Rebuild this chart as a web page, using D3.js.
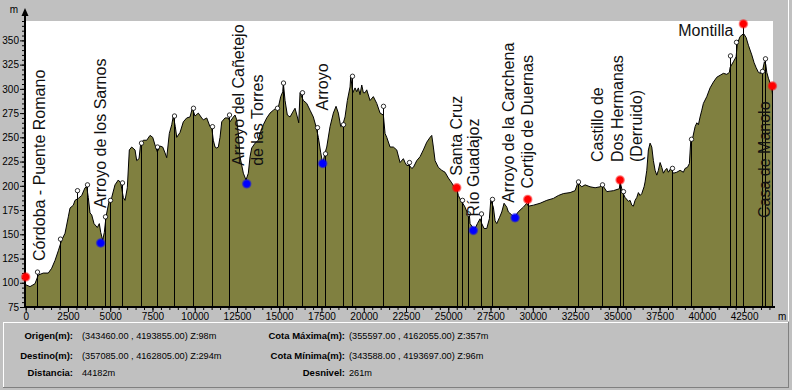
<!DOCTYPE html>
<html>
<head>
<meta charset="utf-8">
<style>
  body { margin: 0; background: #c0c0c0; }
  svg { display: block; font-family: "Liberation Sans", Arial, sans-serif; }
</style>
<script src="https://d3js.org/d3.v7.min.js"></script>
</head>
<body>
<script>
// Perfil: distancia (m) y cota (m)
var dist = [0, 254, 550, 746, 1041, 1337, 1538, 1734, 1929, 2130,
  2326, 2521, 2621, 2817, 2917, 3112, 3314, 3509, 3609, 3704,
  3805, 3905, 4041, 4237, 4355, 4438, 4556, 4651, 4751, 4828,
  4947, 5089, 5284, 5479, 5621, 5775, 5876, 6012, 6130, 6272,
  6468, 6568, 6704, 6805, 6958, 7160, 7355, 7515, 7651, 7787,
  7947, 8106, 8242, 8343, 8497, 8639, 8734, 8852, 8935, 9130,
  9325, 9526, 9722, 9858, 10017, 10213, 10414, 10509, 10710, 10905,
  11006, 11100, 11201, 11301, 11396, 11497, 11597, 11793, 11988, 12089,
  12284, 12385, 12485, 12580, 12680, 12876, 13035, 13171, 13272, 13372,
  13568, 13763, 13864, 14059, 14260, 14455, 14651, 14810, 14946, 15088,
  15207, 15242, 15343, 15479, 15639, 15798, 15934, 16071, 16153, 16230,
  16426, 16627, 16822, 17017, 17177, 17313, 17455, 17573, 17710, 17810,
  18005, 18201, 18360, 18496, 18639, 18757, 18893, 19029, 19189, 19230,
  19349, 19485, 19585, 19680, 19780, 19881, 19976, 20077, 20177, 20372,
  20568, 20769, 20965, 21160, 21260, 21361, 21556, 21751, 21952, 22147,
  22343, 22443, 22544, 22698, 22840, 22934, 23135, 23331, 23526, 23727,
  23923, 24023, 24118, 24218, 24414, 24615, 24810, 25006, 25207, 25343,
  25503, 25597, 25739, 25857, 25994, 26130, 26248, 26290, 26450, 26586,
  26722, 26881, 26982, 27118, 27278, 27432, 27514, 27668, 27769, 27869,
  28023, 28165, 28301, 28461, 28556, 28757, 28952, 29088, 29248, 29443,
  29644, 29739, 30035, 30431, 30828, 31218, 31514, 31810, 32206, 32502,
  32662, 32899, 33094, 33390, 33686, 33981, 34117, 34378, 34768, 35123,
  35164, 35324, 35460, 35656, 35756, 35857, 35952, 36052, 36153, 36248,
  36348, 36449, 36585, 36644, 36745, 36839, 36940, 37040, 37135, 37236,
  37336, 37431, 37532, 37632, 37727, 37828, 37928, 38023, 38165, 38319,
  38520, 38715, 38911, 39011, 39147, 39266, 39348, 39466, 39603, 39703,
  39798, 39898, 39999, 40093, 40294, 40489, 40685, 40886, 41081, 41277,
  41478, 41632, 41673, 41868, 42028, 42105, 42265, 42472, 42620, 42756,
  42957, 43093, 43211, 43348, 43490, 43608, 43703, 43786, 43845, 43940,
  44041, 44142, 44182];
var elev = [98, 96, 99, 108, 110, 110, 115, 123, 133, 144,
  151, 168, 177, 180, 185, 187, 190, 198, 199, 188,
  172, 170, 161, 157, 161, 152, 144, 152, 168, 175,
  185, 188, 201, 206, 203, 188, 185, 198, 237, 240,
  237, 226, 228, 244, 247, 247, 252, 250, 242, 235,
  241, 240, 234, 229, 254, 263, 272, 261, 250, 255,
  266, 270, 271, 280, 272, 275, 270, 268, 270, 261,
  260, 247, 240, 239, 240, 250, 266, 270, 270, 266,
  271, 273, 268, 254, 230, 213, 206, 213, 230, 239,
  244, 247, 254, 263, 270, 275, 278, 280, 281, 292,
  297, 306, 288, 273, 271, 276, 280, 271, 265, 296,
  288, 285, 278, 271, 261, 250, 234, 223, 234, 240,
  261, 275, 282, 275, 261, 263, 271, 288, 302, 313,
  296, 301, 297, 301, 294, 304, 296, 296, 299, 288,
  292, 285, 275, 273, 254, 250, 240, 240, 237, 224,
  228, 224, 221, 221, 218, 219, 226, 230, 237, 245,
  250, 252, 240, 226, 219, 216, 214, 208, 203, 199,
  197, 190, 185, 182, 178, 172, 170, 161, 157, 156,
  161, 166, 161, 156, 156, 166, 185, 178, 164, 161,
  167, 173, 182, 178, 173, 170, 167, 172, 175, 178,
  182, 179, 180, 182, 185, 187, 190, 192, 193, 195,
  203, 199, 201, 199, 198, 199, 201, 194, 195, 197,
  204, 193, 188, 184, 185, 180, 179, 185, 188, 193,
  190, 192, 199, 204, 216, 237, 244, 240, 226, 216,
  211, 216, 224, 219, 213, 216, 218, 214, 218, 213,
  214, 216, 214, 218, 219, 223, 247, 250, 261, 265,
  263, 271, 278, 285, 292, 301, 307, 312, 314, 316,
  315, 317, 322, 328, 333, 347, 354, 357, 353, 345,
  335, 327, 322, 317, 316, 320, 328, 325, 317, 311,
  306, 301, 294];

// Puntos de paso (linea vertical con circulo)
var wpDist = [698, 2030, 3006, 3627, 4692, 4958, 5669, 6822, 7769, 8745,
  9899, 10994, 12029, 14852, 15242, 16331, 17254, 17710, 18757, 19289,
  21124, 22698, 25834, 26189, 26922, 27573, 32662, 34117, 35324, 38224,
  39366, 41673, 42029, 43549, 43744];
var wpElev = [111, 145, 195, 201, 168, 185, 203, 244, 240, 272,
  280, 261, 273, 280, 306, 296, 260, 233, 263, 313,
  282, 224, 185, 171, 171, 186, 204, 201, 194, 218,
  248, 334, 348, 318, 331];

// Lugares con nombre
var placeNames = ["Córdoba - Puente Romano", "Arroyo de los Sarnos",
  "Arroyo del Cañetejo\nde las Torres", "Arroyo", "Santa Cruz", "Río Guadajoz",
  "Arroyo de la Carchena", "Cortijo de Duernas",
  "Castillo de\nDos Hermanas\n(Derruido)", "Montilla", "Casa de Manolo"];
var placeDist = [0, 4438, 13077, 17573, 25502, 26485, 28952, 29703, 35165, 42460, 44176];
var placeElev = [106, 141, 202, 223, 198, 154, 167, 186, 206, 367, 303];
var placeType = ["pueblo", "arroyo", "arroyo", "arroyo", "pueblo", "arroyo",
  "arroyo", "pueblo", "pueblo", "pueblo", "pueblo"];

// Ejes
var xTicks = [0, 2500, 5000, 7500, 10000, 12500, 15000, 17500, 20000, 22500,
  25000, 27500, 30000, 32500, 35000, 37500, 40000, 42500];
var yTicks = [75, 100, 125, 150, 175, 200, 225, 250, 275, 300, 325, 350];

// Panel de datos
var infoLeftLabels = ["Origen(m):", "Destino(m):", "Distancia:"];
var infoLeftValues = ["(343460.00 , 4193855.00) Z:98m", "(357085.00 , 4162805.00) Z:294m", "44182m"];
var infoRightLabels = ["Cota Máxima(m):", "Cota Mínima(m):", "Desnivel:"];
var infoRightValues = ["(355597.00 , 4162055.00) Z:357m", "(343588.00 , 4193697.00) Z:96m", "261m"];

// colocacion de las etiquetas (px respecto al punto)
var labelLayout = [
  {dx: 14, dy: -16}, {dx: 0, dy: -35}, {dx: 1, dy: -18}, {dx: 0, dy: -53},
  {dx: 0, dy: -12}, {dx: 0, dy: -14}, {dx: -7, dy: -15}, {dx: 0, dy: -11},
  {dx: -3, dy: -18}, {dx: -10, dy: 12.5, flat: true}, {dx: -8, dy: 132}
];

var W = 792, H = 390;
var svg = d3.select("body").append("svg").attr("width", W).attr("height", H);

var x = d3.scaleLinear().domain([0, 44182]).range([25.7, 772.5]);
var y = d3.scaleLinear().domain([75, 370]).range([307, 21]);

var defs = svg.append("defs");
[["pueblo", "#ff0000"], ["arroyo", "#0000ff"]].forEach(function(c) {
  var g = defs.append("radialGradient").attr("id", "dot-" + c[0]);
  g.append("stop").attr("offset", "0%").attr("stop-color", c[1]);
  g.append("stop").attr("offset", "60%").attr("stop-color", c[1]);
  g.append("stop").attr("offset", "100%").attr("stop-color", c[1]).attr("stop-opacity", 0.2);
});

// fondo blanco
svg.append("rect").attr("x", 26).attr("y", 21).attr("width", 747).attr("height", 286).attr("fill", "#fff");

// perfil
var profile = d3.zip(dist, elev);
var area = d3.area().x(function(d) { return x(d[0]); }).y0(y(75)).y1(function(d) { return y(d[1]); });
var line = d3.line().x(function(d) { return x(d[0]); }).y(function(d) { return y(d[1]); });
svg.append("path").datum(profile).attr("d", area).attr("fill", "#808040");
svg.append("path").datum(profile).attr("d", line).attr("fill", "none").attr("stroke", "#000").attr("stroke-width", 1);

// lineas verticales de los puntos de paso
var wps = d3.zip(wpDist, wpElev);
svg.append("g").selectAll("line").data(wps).enter().append("line")
  .attr("x1", function(d) { return Math.round(x(d[0])) + 0.5; })
  .attr("x2", function(d) { return Math.round(x(d[0])) + 0.5; })
  .attr("y1", function(d) { return y(d[1]); })
  .attr("y2", y(75))
  .attr("stroke", "#000").attr("stroke-width", 1);

// lineas de los pueblos
var places = placeNames.map(function(n, i) {
  return {name: n, d: placeDist[i], e: placeElev[i], type: placeType[i], lay: labelLayout[i]};
});
svg.append("g").selectAll("line").data(places.filter(function(p) { return p.type == "pueblo" && p.d > 0; }))
  .enter().append("line")
  .attr("x1", function(p) { return Math.round(x(p.d)) + 0.5; })
  .attr("x2", function(p) { return Math.round(x(p.d)) + 0.5; })
  .attr("y1", function(p) { return y(p.e); })
  .attr("y2", y(75))
  .attr("stroke", "#000").attr("stroke-width", 1);

svg.append("g").selectAll("circle").data(wps).enter().append("circle")
  .attr("cx", function(d) { return Math.round(x(d[0])) + 0.5; })
  .attr("cy", function(d) { return y(d[1]); })
  .attr("r", 2.2)
  .attr("fill", "#fff").attr("stroke", "#000").attr("stroke-width", 0.8);

// ejes
var gy = svg.append("g").attr("transform", "translate(25,0)");
gy.append("g").call(d3.axisLeft(y).tickValues(d3.range(75, 371, 5)).tickSize(3).tickSizeOuter(0).tickFormat(""));
gy.append("g").call(d3.axisLeft(y).tickValues(yTicks).tickSize(5).tickSizeOuter(0).tickPadding(1));
gy.selectAll(".domain").remove();

var gx = svg.append("g").attr("transform", "translate(0,307)");
gx.append("g").call(d3.axisBottom(x).tickValues(d3.range(0, 44001, 500)).tickSize(3).tickSizeOuter(0).tickFormat(""));
gx.append("g").call(d3.axisBottom(x).tickValues(xTicks).tickSize(5).tickSizeOuter(0).tickPadding(1).tickFormat(d3.format("d")));
gx.selectAll(".domain").remove();

svg.selectAll(".tick text").attr("font-family", "Liberation Sans, Arial, sans-serif").attr("font-size", 10).attr("fill", "#000");
svg.selectAll(".tick line").attr("stroke", "#000");

svg.append("line").attr("x1", 25).attr("x2", 25).attr("y1", 13).attr("y2", 308)
  .attr("stroke", "#000").attr("stroke-width", 2);
svg.append("line").attr("x1", 24).attr("x2", 775).attr("y1", 307).attr("y2", 307)
  .attr("stroke", "#000").attr("stroke-width", 2);
svg.append("path").attr("d", "M25,8L21.5,16L28.5,16Z").attr("fill", "#000");
svg.append("text").attr("x", 14).attr("y", 13).attr("text-anchor", "middle").attr("font-size", 10).text("m");
svg.append("text").attr("x", 778).attr("y", 320).attr("font-size", 10).text("m");

// etiquetas
places.forEach(function(p) {
  var L = p.lay;
  var px = x(p.d) + L.dx, py = y(p.e) + L.dy;
  var t = svg.append("text").attr("font-size", 16).attr("fill", "#111");
  if (L.flat) {
    t.attr("x", px).attr("y", py).attr("text-anchor", "end").text(p.name);
    return;
  }
  var lines = p.name.split("\n");
  t.attr("transform", "translate(" + px + "," + py + ") rotate(-90)");
  lines.forEach(function(s, k) {
    t.append("tspan").attr("x", 0)
      .attr("dy", k == 0 ? (5.6 - (lines.length - 1) * 9.75) : 19.5)
      .text(s);
  });
});

// puntos
svg.append("g").selectAll("circle").data(places).enter().append("circle")
  .attr("cx", function(p) { return x(p.d); })
  .attr("cy", function(p) { return y(p.e); })
  .attr("r", 5)
  .attr("fill", function(p) { return "url(#dot-" + p.type + ")"; });

// borde derecho
svg.append("line").attr("x1", 788.5).attr("x2", 788.5).attr("y1", 0).attr("y2", 321).attr("stroke", "#fff");

// panel de datos
var panel = svg.append("g");
panel.append("line").attr("x1", 3).attr("x2", 788).attr("y1", 322.5).attr("y2", 322.5).attr("stroke", "#fff");
panel.append("line").attr("x1", 3.5).attr("x2", 3.5).attr("y1", 322).attr("y2", 387).attr("stroke", "#fff");
panel.append("line").attr("x1", 3).attr("x2", 789).attr("y1", 387.5).attr("y2", 387.5).attr("stroke", "#808080");
panel.append("line").attr("x1", 788.5).attr("x2", 788.5).attr("y1", 322).attr("y2", 388).attr("stroke", "#808080");

var rowY = [338.7, 358.5, 376.3];
function infoCol(labels, values, xl, xv) {
  labels.forEach(function(s, i) {
    panel.append("text").attr("x", xl).attr("y", rowY[i]).attr("text-anchor", "end")
      .attr("font-size", 9.5).attr("font-weight", "bold").text(s);
    panel.append("text").attr("x", xv).attr("y", rowY[i])
      .attr("font-size", 9.2).text(values[i]);
  });
}
infoCol(infoLeftLabels, infoLeftValues, 73, 82);
infoCol(infoRightLabels, infoRightValues, 345, 349);
</script>
</body>
</html>
